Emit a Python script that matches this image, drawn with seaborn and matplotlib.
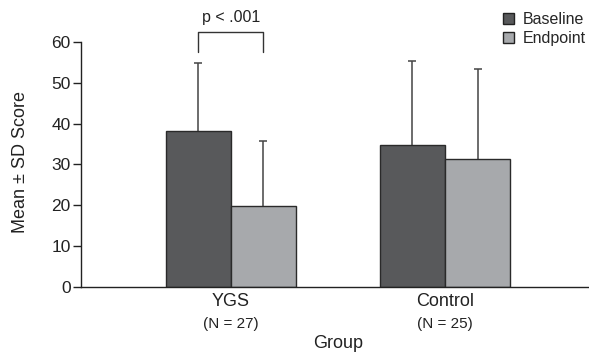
import pandas as pd
import matplotlib.pyplot as plt
import seaborn as sns

# Values
groups = ["YGS", "Control"]
group_n = ["(N = 27)", "(N = 25)"]
timepoints = ["Baseline", "Endpoint"]
baseline_mean = [38.3, 34.8]
endpoint_mean = [19.8, 31.3]
baseline_sd = [16.6, 20.5]
endpoint_sd = [16.0, 22.2]

data = pd.DataFrame({
    "Group": groups * 2,
    "Timepoint": ["Baseline"] * 2 + ["Endpoint"] * 2,
    "Score": baseline_mean + endpoint_mean,
    "SD": baseline_sd + endpoint_sd,
})

sns.set_style("white")
plt.rcParams["font.family"] = ["Liberation Sans", "DejaVu Sans"]

fig = plt.figure(figsize=(5.89, 3.54), dpi=100)
ax = fig.add_axes([0.1375, 0.1893, 0.8625, 0.6921])

palette = {"Baseline": "#58595b", "Endpoint": "#a7a9ac"}
sns.barplot(data=data, x="Group", y="Score", hue="Timepoint", order=groups,
            hue_order=timepoints, palette=palette, errorbar=None,
            width=0.61, edgecolor="#2a2a2a", linewidth=1, saturation=1,
            legend=False, ax=ax)

bar_containers = list(ax.containers)

# One-sided (upper) SD error bars at the centre of each bar, cap on top only
for container, tp in zip(bar_containers, timepoints):
    sub = data[data["Timepoint"] == tp].set_index("Group").loc[groups]
    xs = [p.get_x() + p.get_width() / 2 for p in container.patches]
    ax.errorbar(xs, sub["Score"], yerr=[[0] * len(xs), sub["SD"]], fmt="none",
                ecolor="#444444", elinewidth=1.1, capsize=0, zorder=0.5)
    ax.plot(xs, sub["Score"] + sub["SD"], ls="none", marker="_", markersize=5.6,
            markeredgewidth=1.1, color="#444444", zorder=0.5)

# Significance bracket between YGS bars
bars_ygs = [c.patches[0] for c in bar_containers]
x1 = bars_ygs[0].get_x() + bars_ygs[0].get_width() / 2
x2 = bars_ygs[1].get_x() + bars_ygs[1].get_width() / 2
ax.plot([x1, x1, x2, x2], [57.6, 62.4, 62.4, 57.6], color="#333333", lw=1,
        clip_on=False)
ax.text((x1 + x2) / 2, 64.9, "p < .001", ha="center", va="baseline",
        fontsize=11.5, color="#222222")

ax.set_ylim(0, 60)
ax.set_xlim(-0.70, 1.673)
ax.set_yticks(range(0, 61, 10))
ax.tick_params(axis="y", length=6, width=1, color="#222222", labelsize=12.5,
               pad=1.5, left=True, labelcolor="#222222")
ax.tick_params(axis="x", length=0, labelsize=13, pad=4.5, labelcolor="#222222")
for side in ["top", "right"]:
    ax.spines[side].set_visible(False)
for side in ["left", "bottom"]:
    ax.spines[side].set_color("#222222")
    ax.spines[side].set_linewidth(1)

for i, n in enumerate(group_n):
    ax.text(i, -0.122, n, transform=ax.get_xaxis_transform(), ha="center",
            va="top", fontsize=11, color="#222222")

ax.set_xlabel("Group", fontsize=13, color="#222222")
ax.xaxis.set_label_coords(0.506, -0.195)
ax.set_ylabel("Mean ± SD Score", fontsize=13, color="#222222")
ax.yaxis.set_label_coords(-0.102, 0.51)

handles = [plt.Rectangle((0, 0), 1, 1, facecolor=palette[t], edgecolor="#222222",
                         linewidth=1) for t in timepoints]
fig.legend(handles, timepoints, loc="upper left", bbox_to_anchor=(0.843, 0.985),
           frameon=False, fontsize=11.5, handlelength=0.7, handleheight=0.7,
           handletextpad=0.55, labelspacing=0.25, borderaxespad=0)

fig.savefig("out.png", dpi=100)
